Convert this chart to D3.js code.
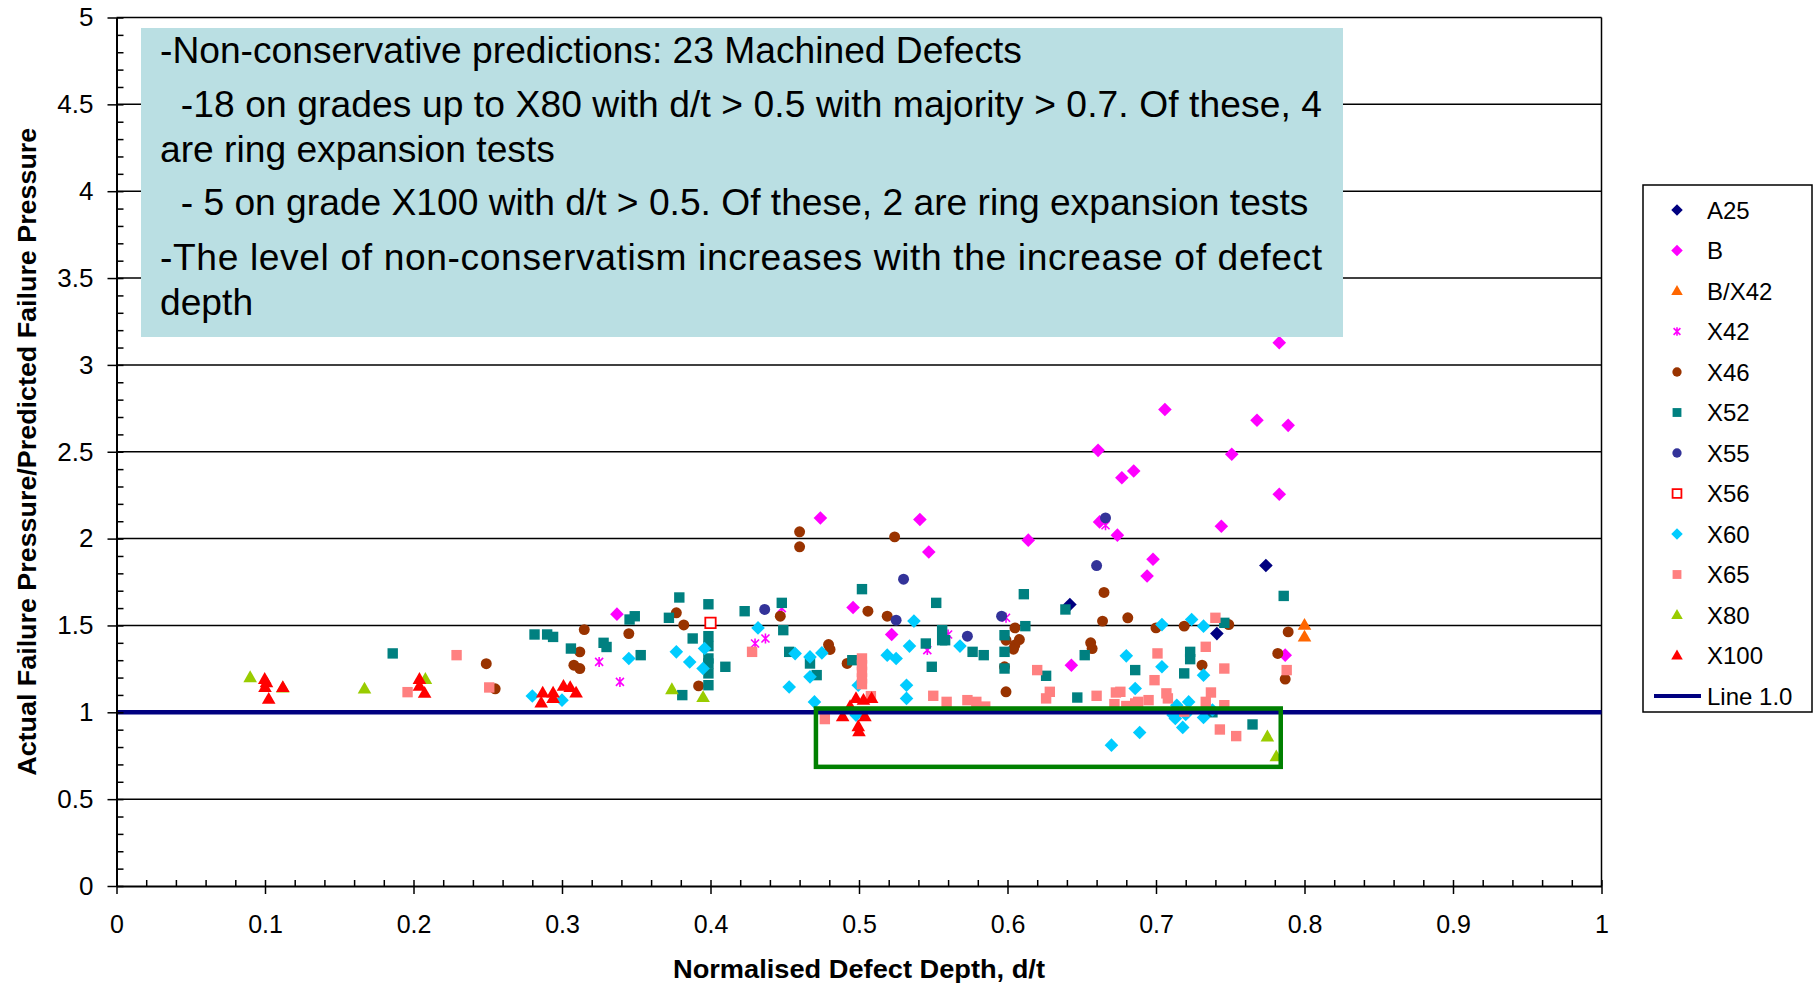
<!DOCTYPE html>
<html>
<head>
<meta charset="utf-8">
<script src="https://cdn.jsdelivr.net/npm/d3@7/dist/d3.min.js"></script>
<style>
  body { margin: 0; background: #fff; }
  svg text { font-family: "Liberation Sans", Arial, sans-serif; fill: #000; }
</style>
</head>
<body>
<svg id="chart" width="1816" height="983"></svg>
<script>
const xTicks = [0, 0.1, 0.2, 0.3, 0.4, 0.5, 0.6, 0.7, 0.8, 0.9, 1];
const yTicks = [0, 0.5, 1, 1.5, 2, 2.5, 3, 3.5, 4, 4.5, 5];

// [d/t, ratio]
const a25 = [[0.642,1.621],[0.774,1.845],[0.741,1.453]];
const gradeB = [[0.337,1.565],[0.474,2.119],[0.496,1.603],[0.522,1.448],[0.541,2.11],[0.547,1.923],
  [0.614,1.991],[0.662,2.096],[0.674,2.02],[0.643,1.271],[0.698,1.881],[0.694,1.785],[0.744,2.071],
  [0.783,2.255],[0.787,1.329],[0.783,3.128],[0.706,2.743],[0.768,2.681],[0.789,2.652],[0.661,2.508],
  [0.751,2.486],[0.685,2.389],[0.677,2.35]];
const bX42 = [[0.80,1.502],[0.80,1.434]];
const x42 = [[0.325,1.29],[0.339,1.175],[0.448,1.60],[0.430,1.396],[0.437,1.425],[0.546,1.358],
  [0.560,1.448],[0.599,1.544],[0.666,2.077]];
const x46 = [[0.249,1.28],[0.255,1.135],[0.315,1.476],[0.312,1.348],[0.308,1.271],[0.312,1.252],
  [0.345,1.453],[0.377,1.573],[0.382,1.503],[0.392,1.152],[0.447,1.553],[0.4795,1.39],[0.4805,1.362],
  [0.46,2.039],[0.46,1.953],[0.506,1.582],[0.519,1.553],[0.524,2.01],[0.492,1.281],[0.605,1.486],
  [0.599,1.415],[0.608,1.419],[0.605,1.387],[0.604,1.363],[0.598,1.262],[0.599,1.118],[0.656,1.40],
  [0.657,1.367],[0.665,1.69],[0.664,1.525],[0.681,1.544],[0.70,1.486],[0.719,1.496],[0.749,1.505],
  [0.731,1.271],[0.789,1.463],[0.782,1.339],[0.787,1.191]];
const x52 = [[0.186,1.339],[0.2815,1.448],[0.29,1.448],[0.294,1.434],[0.306,1.367],[0.328,1.40],
  [0.33,1.376],[0.3455,1.534],[0.349,1.553],[0.353,1.329],[0.379,1.661],[0.372,1.544],[0.388,1.425],
  [0.381,1.099],[0.3986,1.622],[0.3986,1.438],[0.3986,1.381],[0.3986,1.31],[0.3986,1.281],
  [0.3986,1.224],[0.3986,1.156],[0.41,1.262],[0.423,1.582],[0.448,1.63],[0.449,1.473],[0.453,1.348],
  [0.467,1.281],[0.4715,1.214],[0.502,1.709],[0.4955,1.30],[0.552,1.63],[0.545,1.396],[0.556,1.473],
  [0.556,1.415],[0.558,1.415],[0.549,1.262],[0.5765,1.348],[0.584,1.329],[0.598,1.444],[0.598,1.348],
  [0.598,1.252],[0.612,1.496],[0.611,1.68],[0.639,1.592],[0.652,1.329],[0.626,1.21],[0.647,1.085],
  [0.686,1.243],[0.786,1.67],[0.746,1.515],[0.723,1.348],[0.723,1.306],[0.719,1.224],[0.738,1.0],
  [0.765,0.93]];
const x55 = [[0.4365,1.592],[0.525,1.53],[0.53,1.766],[0.573,1.438],[0.596,1.553],[0.66,1.845],[0.666,2.119]];
const x56 = [[0.40,1.515]];
const x60 = [[0.28,1.094],[0.30,1.07],[0.345,1.31],[0.377,1.348],[0.386,1.29],[0.396,1.367],[0.395,1.252],
  [0.432,1.486],[0.453,1.146],[0.457,1.338],[0.467,1.319],[0.475,1.342],[0.467,1.204],[0.47,1.06],
  [0.4995,1.156],[0.498,0.984],[0.519,1.329],[0.525,1.31],[0.537,1.525],[0.534,1.381],[0.532,1.156],
  [0.532,1.08],[0.568,1.381],[0.68,1.325],[0.67,0.811],[0.689,0.884],[0.686,1.137],[0.704,1.505],
  [0.724,1.534],[0.732,1.496],[0.704,1.262],[0.732,1.214],[0.714,1.041],[0.722,1.06],[0.7115,0.984],
  [0.713,0.965],[0.72,0.988],[0.718,0.913],[0.732,0.97],[0.738,1.013]];
const x65 = [[0.196,1.116],[0.229,1.329],[0.251,1.143],[0.428,1.348],[0.502,1.31],[0.502,1.272],
  [0.502,1.233],[0.502,1.195],[0.502,1.162],[0.508,1.093],[0.477,0.961],[0.55,1.095],[0.559,1.06],
  [0.573,1.07],[0.579,1.06],[0.585,1.033],[0.62,1.243],[0.6285,1.118],[0.626,1.08],[0.66,1.095],
  [0.673,1.114],[0.672,1.047],[0.68,1.036],[0.686,1.051],[0.74,1.544],[0.701,1.339],[0.7335,1.377],
  [0.746,1.252],[0.699,1.185],[0.737,1.114],[0.676,1.118],[0.688,1.06],[0.695,1.07],[0.707,1.109],
  [0.708,1.08],[0.7335,1.06],[0.719,1.004],[0.746,1.041],[0.743,0.901],[0.754,0.863],[0.788,1.243]];
const x80 = [[0.09,1.20],[0.112,1.14],[0.167,1.135],[0.208,1.19],[0.374,1.131],[0.395,1.086],
  [0.775,0.859],[0.781,0.744]];
const x100 = [[0.0998,1.19],[0.101,1.17],[0.100,1.143],[0.1025,1.075],[0.112,1.143],[0.204,1.19],
  [0.204,1.15],[0.2075,1.11],[0.287,1.112],[0.286,1.054],[0.294,1.112],[0.294,1.08],[0.301,1.15],
  [0.3055,1.143],[0.3095,1.112],[0.498,1.08],[0.503,1.07],[0.5085,1.08],[0.494,1.033],[0.489,0.975],
  [0.504,0.975],[0.4995,0.918],[0.500,0.888]];
const line10 = [[0, 1], [1, 1]];
const flagBox = [0.471, 0.784, 0.686, 1.022];   // x0, x1, y0, y1

const noteLines = [
  "-Non-conservative predictions: 23 Machined Defects",
  "  -18 on grades up to X80 with d/t > 0.5 with majority > 0.7. Of these, 4",
  "are ring expansion tests",
  "  - 5 on grade X100 with d/t > 0.5. Of these, 2 are ring expansion tests",
  "-The level of non-conservatism increases with the increase of defect",
  "depth"
];

const series = [
  {name: "A25",   data: a25,    shape: "diamond",  color: "#000080"},
  {name: "B",     data: gradeB, shape: "diamond",  color: "#ff00ff"},
  {name: "B/X42", data: bX42,   shape: "triangle", color: "#ff6600"},
  {name: "X42",   data: x42,    shape: "star",     color: "#ff00ff"},
  {name: "X46",   data: x46,    shape: "circle",   color: "#993300"},
  {name: "X52",   data: x52,    shape: "square",   color: "#008080"},
  {name: "X55",   data: x55,    shape: "circle",   color: "#333399"},
  {name: "X56",   data: x56,    shape: "hollow",   color: "#ff0000"},
  {name: "X60",   data: x60,    shape: "diamond",  color: "#00ccff"},
  {name: "X65",   data: x65,    shape: "square",   color: "#ff8080"},
  {name: "X80",   data: x80,    shape: "triangle", color: "#99cc00"},
  {name: "X100",  data: x100,   shape: "triangle", color: "#ff0000"}
];

var markerPath = function(shape, k) {
  if (shape === "diamond") { var r = 6.8*k; return `M0,${-r}L${r},0L0,${r}L${-r},0Z`; }
  if (shape === "square" || shape === "hollow") { var s = 5.2*k; return `M${-s},${-s}H${s}V${s}H${-s}Z`; }
  if (shape === "circle") return d3.symbol().type(d3.symbolCircle).size(Math.PI*30*k*k)();
  if (shape === "triangle") { var w = 6.8*k; return `M0,${-7.2*k}L${w},${4.6*k}L${-w},${4.6*k}Z`; }
  var a = 4*k;
  return `M${-a},${-a}L${a},${a}M${-a},${a}L${a},${-a}M0,${-5*k}L0,${5*k}`;
};

var styleMarker = function(sel, s) {
  if (s.shape === "star") sel.attr("fill", "none").attr("stroke", s.color).attr("stroke-width", 1.6);
  else if (s.shape === "hollow") sel.attr("fill", "#fff").attr("stroke", s.color).attr("stroke-width", 1.8);
  else sel.attr("fill", s.color);
};

const svg = d3.select("#chart");
const x = d3.scaleLinear().domain([0, 1]).range([116.5, 1601.5]);
const y = d3.scaleLinear().domain([0, 5]).range([886, 17.5]);

// gridlines + right border
svg.append("g").selectAll("line")
   .data(yTicks.filter(d => d > 0))
   .enter().append("line")
   .attr("x1", x(0)).attr("x2", x(1))
   .attr("y1", d => y(d)).attr("y2", d => y(d))
   .attr("stroke", "#000").attr("stroke-width", 1.5);
svg.append("line")
   .attr("x1", x(1)).attr("x2", x(1)).attr("y1", y(0)).attr("y2", y(5))
   .attr("stroke", "#000").attr("stroke-width", 1.5);

// points
series.forEach(s => {
  var g = svg.append("g");
  var m = g.selectAll("path").data(s.data).enter().append("path")
           .attr("d", markerPath(s.shape, 1))
           .attr("transform", d => `translate(${x(d[0])},${y(d[1])})`);
  styleMarker(m, s);
});

// Line 1.0
svg.append("path")
   .datum(line10)
   .attr("d", d3.line().x(d => x(d[0])).y(d => y(d[1])))
   .attr("stroke", "#000080").attr("stroke-width", 4.5).attr("fill", "none");

// green box round the non-conservative cases
svg.append("rect")
   .attr("x", x(flagBox[0])).attr("y", y(flagBox[3]))
   .attr("width", x(flagBox[1]) - x(flagBox[0]))
   .attr("height", y(flagBox[2]) - y(flagBox[3]))
   .attr("fill", "none").attr("stroke", "#008000").attr("stroke-width", 4.5);

// axes
var xAxis = svg.append("g")
   .attr("transform", `translate(0,${y(0)})`)
   .call(d3.axisBottom(x).tickValues(xTicks).tickSize(8).tickSizeOuter(0).tickPadding(21).tickFormat(d3.format("")));
xAxis.selectAll("text").attr("font-size", 25).style("font-family", "Liberation Sans, Arial, sans-serif");
svg.append("g")
   .attr("transform", `translate(0,${y(0)})`)
   .call(d3.axisTop(x).tickValues(d3.range(0, 1.001, 0.02)).tickSize(6).tickFormat(""))
   .call(g => g.select(".domain").remove());

var yAxis = svg.append("g")
   .attr("transform", `translate(${x(0)},0)`)
   .call(d3.axisLeft(y).tickValues(yTicks).tickSize(9).tickSizeOuter(0).tickPadding(14).tickFormat(d3.format("")));
yAxis.selectAll("text").attr("font-size", 26).style("font-family", "Liberation Sans, Arial, sans-serif");
svg.append("g")
   .attr("transform", `translate(${x(0)},0)`)
   .call(d3.axisRight(y).tickValues(d3.range(0, 5.001, 0.1)).tickSize(7).tickFormat(""))
   .call(g => g.select(".domain").remove());

svg.selectAll(".domain").attr("stroke-width", 2);
svg.selectAll(".tick line").attr("stroke-width", 1.5);

// axis titles
svg.append("text")
   .attr("x", x(0.5)).attr("y", 978)
   .attr("text-anchor", "middle").attr("font-weight", "bold").attr("font-size", 25)
   .attr("textLength", 372).attr("lengthAdjust", "spacingAndGlyphs")
   .text("Normalised Defect Depth, d/t");
svg.append("text")
   .attr("transform", `translate(36,${(y(0) + y(5)) / 2}) rotate(-90)`)
   .attr("text-anchor", "middle").attr("font-weight", "bold").attr("font-size", 25)
   .attr("textLength", 648).attr("lengthAdjust", "spacingAndGlyphs")
   .text("Actual Failure Pressure/Predicted Failure Pressure");

// note box
var note = svg.append("g");
note.append("rect")
    .attr("x", 141).attr("y", 28).attr("width", 1202).attr("height", 309)
    .attr("fill", "#badfe3");
var baselines = [63, 117, 162, 215, 270, 315];
var noteText = note.selectAll("text").data(noteLines).enter().append("text")
    .attr("x", 160)
    .attr("y", (d, i) => baselines[i])
    .attr("font-size", 36)
    .style("white-space", "pre")
    .text(d => d);
var w0 = noteText.nodes()[0].getComputedTextLength();
var fs = 36 * 862 / w0;
noteText.attr("font-size", fs);
noteText.filter((d, i) => i === 1 || i === 4)
    .attr("textLength", 1322 - 160)
    .attr("lengthAdjust", "spacing");

// legend
var step = 40.5;
var legend = svg.append("g").attr("transform", "translate(1643,185)");
legend.append("rect")
      .attr("width", 169).attr("height", 527)
      .attr("fill", "#fff").attr("stroke", "#000").attr("stroke-width", 1.5);
var item = legend.selectAll("g.item").data(series).enter().append("g")
      .attr("class", "item")
      .attr("transform", (d, i) => `translate(0,${25 + i * step})`);
item.each(function(s) {
  var m = d3.select(this).append("path")
      .attr("d", markerPath(s.shape, 0.85))
      .attr("transform", "translate(34,0)");
  styleMarker(m, s);
});
item.append("text")
    .attr("x", 64).attr("y", 8.5).attr("font-size", 24)
    .text(d => d.name);
var lastY = 25 + series.length * step;
legend.append("line")
      .attr("x1", 11).attr("x2", 58).attr("y1", lastY).attr("y2", lastY)
      .attr("stroke", "#000080").attr("stroke-width", 4);
legend.append("text")
      .attr("x", 64).attr("y", lastY + 8.5).attr("font-size", 24)
      .text("Line 1.0");
</script>
</body>
</html>
